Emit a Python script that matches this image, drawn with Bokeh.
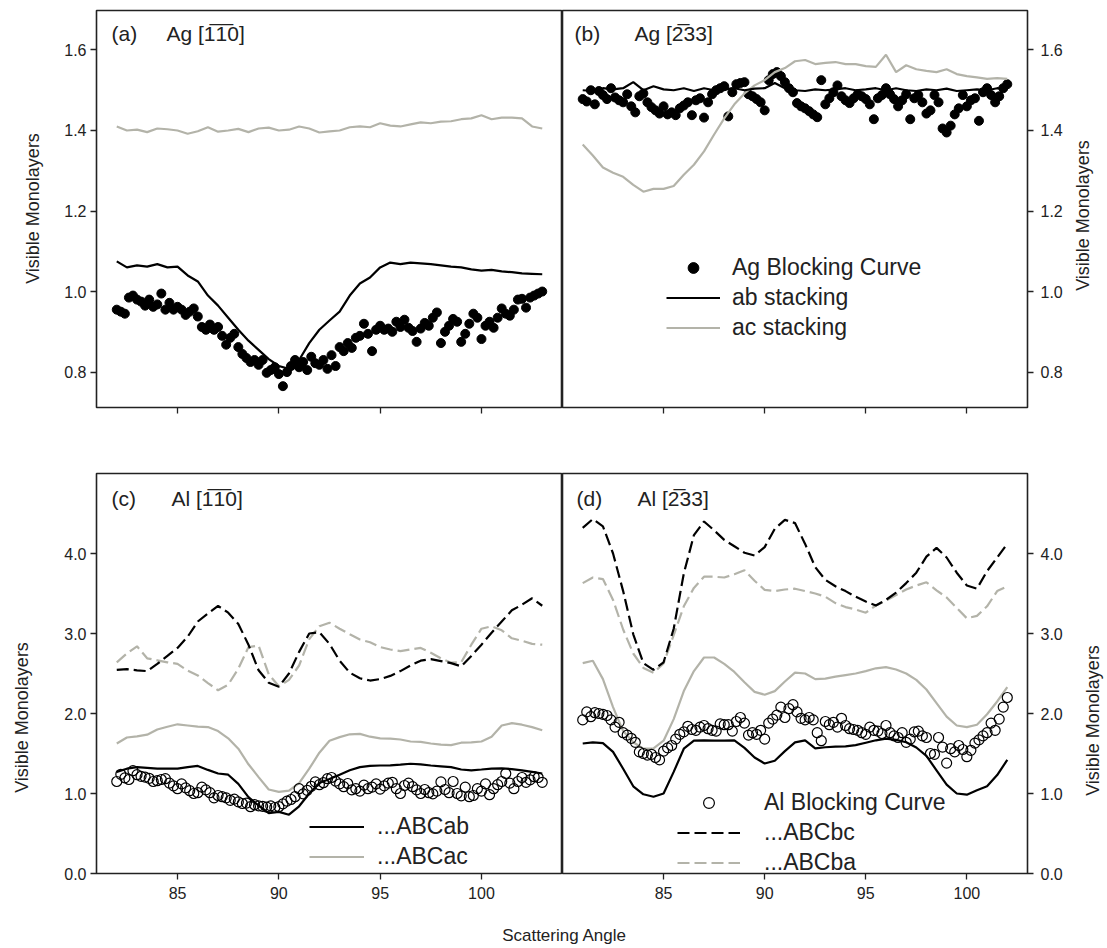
import math
import numpy as np
from bokeh.plotting import figure
from bokeh.models import Range1d, FixedTicker, PrintfTickFormatter, Label, Legend, LegendItem
from bokeh.layouts import column, row
from bokeh.embed import file_html
from bokeh.resources import INLINE
from bokeh.core.properties import value

FONT = "Liberation Sans"
GRAY = "#b3b3a9"
INK = "#222222"

# ---------------- data ----------------
x_ticks = [85, 90, 95, 100]
y_ticks_top = [0.8, 1.0, 1.2, 1.4, 1.6]
y_ticks_bot = [0.0, 1.0, 2.0, 3.0, 4.0]

# panel (a) Ag [-1-10]; lines every 0.5 deg from 82, dots every 0.2 deg from 82
a_line_start = 82.0
a_ab = [1.075, 1.060, 1.065, 1.062, 1.068, 1.060, 1.062, 1.040,
        1.025, 0.990, 0.965, 0.935, 0.905, 0.878, 0.855, 0.832,
        0.815, 0.808, 0.830, 0.872, 0.905, 0.928, 0.950, 0.990,
        1.020, 1.035, 1.060, 1.072, 1.068, 1.072, 1.070, 1.068,
        1.065, 1.062, 1.060, 1.055, 1.052, 1.054, 1.050, 1.048,
        1.045, 1.044, 1.043]
a_ac = [1.410, 1.400, 1.402, 1.396, 1.405, 1.403, 1.400, 1.392,
        1.398, 1.408, 1.397, 1.400, 1.404, 1.396, 1.405, 1.407,
        1.400, 1.402, 1.410, 1.405, 1.395, 1.398, 1.400, 1.408,
        1.410, 1.408, 1.418, 1.412, 1.410, 1.415, 1.420, 1.418,
        1.422, 1.423, 1.428, 1.430, 1.438, 1.428, 1.432, 1.432,
        1.430, 1.410, 1.405]
a_dot_start = 82.0
a_dots = [0.955, 0.950, 0.945, 0.985, 0.990,
          0.980, 0.975, 0.965, 0.980, 0.962,
          0.968, 0.995, 0.955, 0.972, 0.955,
          0.962, 0.955, 0.942, 0.950, 0.958,
          0.938, 0.912, 0.905, 0.918, 0.905,
          0.912, 0.890, 0.868, 0.885, 0.895,
          0.862, 0.845, 0.835, 0.825, 0.830,
          0.818, 0.830, 0.798, 0.805, 0.812,
          0.795, 0.765, 0.800, 0.815, 0.830,
          0.812, 0.825, 0.805, 0.838, 0.822,
          0.818, 0.830, 0.808, 0.842, 0.815,
          0.862, 0.852, 0.872, 0.860, 0.885,
          0.890, 0.920, 0.895, 0.852, 0.905,
          0.915, 0.905, 0.908, 0.900, 0.925,
          0.912, 0.930, 0.910, 0.902, 0.875,
          0.908, 0.922, 0.915, 0.935, 0.948,
          0.872, 0.900, 0.915, 0.932, 0.925,
          0.875, 0.895, 0.920, 0.945, 0.935,
          0.882, 0.915, 0.925, 0.910, 0.935,
          0.958, 0.945, 0.940, 0.955, 0.980,
          0.982, 0.960, 0.985, 0.990, 0.995,
          1.000]

# panel (b) Ag [-233]; lines from 81, dots from 81
b_line_start = 81.0
b_ab = [1.500, 1.498, 1.505, 1.502, 1.505, 1.520, 1.500, 1.510,
        1.502, 1.500, 1.505, 1.498, 1.505, 1.500, 1.502, 1.505,
        1.500, 1.504, 1.505, 1.518, 1.505, 1.500, 1.498, 1.502,
        1.500, 1.502, 1.505, 1.500, 1.502, 1.505, 1.500, 1.505,
        1.500, 1.498, 1.502, 1.500, 1.504, 1.498, 1.500, 1.502,
        1.500, 1.505, 1.502]
b_ac = [1.365, 1.338, 1.308, 1.295, 1.285, 1.265, 1.248, 1.255,
        1.255, 1.262, 1.290, 1.315, 1.348, 1.390, 1.430, 1.465,
        1.492, 1.512, 1.525, 1.545, 1.555, 1.572, 1.575, 1.565,
        1.568, 1.570, 1.565, 1.565, 1.560, 1.558, 1.588, 1.545,
        1.562, 1.552, 1.548, 1.545, 1.552, 1.540, 1.535, 1.532,
        1.528, 1.530, 1.528]
b_dot_start = 81.0
b_dots = [1.478, 1.472, 1.500, 1.465, 1.498,
          1.488, 1.478, 1.505, 1.482, 1.475,
          1.470, 1.490, 1.460, 1.445, 1.485,
          1.492, 1.470, 1.458, 1.450, 1.442,
          1.460, 1.440, 1.445, 1.438, 1.455,
          1.462, 1.470, 1.438, 1.475, 1.480,
          1.432, 1.470, 1.490, 1.500, 1.505,
          1.510, 1.435, 1.495, 1.515, 1.518,
          1.520, 1.490, 1.485, 1.478, 1.470,
          1.450, 1.525, 1.540, 1.545, 1.535,
          1.520, 1.505, 1.495, 1.468, 1.460,
          1.455, 1.448, 1.440, 1.433, 1.525,
          1.465, 1.480, 1.495, 1.512, 1.485,
          1.475, 1.468, 1.480, 1.490, 1.485,
          1.478, 1.465, 1.428, 1.480, 1.488,
          1.505, 1.490, 1.478, 1.460, 1.475,
          1.490, 1.428, 1.480, 1.488, 1.470,
          1.442, 1.450, 1.488, 1.470, 1.405,
          1.395, 1.412, 1.440, 1.455, 1.488,
          1.460, 1.475, 1.480, 1.424, 1.495,
          1.505, 1.488, 1.470, 1.485, 1.505,
          1.515]

# panel (c) Al [-1-10]
c_line_start = 82.0
c_ab = [1.270, 1.310, 1.330, 1.320, 1.310, 1.312, 1.310, 1.330,
        1.345, 1.295, 1.250, 1.235, 1.120, 0.955, 0.850, 0.755,
        0.770, 0.735, 0.840, 1.000, 1.130, 1.180, 1.235, 1.290,
        1.330, 1.345, 1.350, 1.352, 1.360, 1.372, 1.365, 1.350,
        1.340, 1.330, 1.300, 1.290, 1.300, 1.312, 1.315, 1.305,
        1.290, 1.270, 1.250]
c_ac = [1.625, 1.700, 1.715, 1.735, 1.800, 1.835, 1.865, 1.850,
        1.835, 1.830, 1.780, 1.690, 1.560, 1.365, 1.205, 1.050,
        1.020, 1.035, 1.130, 1.310, 1.510, 1.660, 1.705, 1.740,
        1.745, 1.710, 1.690, 1.685, 1.675, 1.650, 1.645, 1.625,
        1.610, 1.605, 1.635, 1.640, 1.650, 1.710, 1.850, 1.880,
        1.860, 1.830, 1.790]
c_bc = [2.545, 2.555, 2.540, 2.530, 2.620, 2.720, 2.820, 2.960,
        3.150, 3.250, 3.345, 3.260, 3.120, 2.860, 2.540, 2.385,
        2.335, 2.500, 2.770, 3.000, 3.015, 2.870, 2.660, 2.510,
        2.440, 2.412, 2.430, 2.470, 2.530, 2.600, 2.660, 2.680,
        2.655, 2.630, 2.590, 2.720, 2.860, 3.010, 3.150, 3.290,
        3.360, 3.440, 3.347]
c_ba = [2.640, 2.750, 2.840, 2.690, 2.665, 2.640, 2.620, 2.535,
        2.475, 2.380, 2.290, 2.360, 2.560, 2.830, 2.850, 2.490,
        2.340, 2.420, 2.600, 2.930, 3.090, 3.135, 3.060, 2.990,
        2.925, 2.890, 2.830, 2.800, 2.780, 2.800, 2.820, 2.760,
        2.690, 2.635, 2.640, 2.860, 3.060, 3.090, 3.040, 2.940,
        2.910, 2.870, 2.860]
c_dot_start = 82.0
c_dots = [1.150, 1.240, 1.195, 1.175, 1.285,
          1.235, 1.215, 1.205, 1.190, 1.150,
          1.160, 1.175, 1.185, 1.130, 1.095,
          1.060, 1.120, 1.070, 1.035, 1.000,
          1.010, 1.080, 1.045, 1.010, 0.945,
          0.975, 0.960, 0.945, 0.915, 0.930,
          0.895, 0.875, 0.880, 0.835, 0.860,
          0.845, 0.840, 0.830, 0.845, 0.825,
          0.835, 0.870, 0.905, 0.925, 0.960,
          1.060, 0.995, 1.040, 1.090, 1.145,
          1.110, 1.135, 1.185, 1.200, 1.155,
          1.120, 1.085, 1.125, 1.045, 1.060,
          1.030, 1.105, 1.060, 1.080, 1.120,
          1.055, 1.095, 1.130, 1.140, 1.060,
          1.000, 1.100, 1.130, 1.085, 1.045,
          1.000, 1.050, 1.010, 0.995, 1.030,
          1.145, 1.050, 1.010, 1.150, 1.000,
          0.970, 1.080, 0.960, 0.975, 1.060,
          1.030, 1.120, 0.985, 1.060, 1.110,
          1.150, 1.250, 1.130, 1.060, 1.150,
          1.200, 1.140, 1.170, 1.210, 1.200,
          1.140]

# panel (d) Al [-233]
d_line_start = 81.0
d_ab = [1.625, 1.640, 1.630, 1.520, 1.310, 1.090, 0.990, 0.960,
        1.000, 1.270, 1.560, 1.660, 1.665, 1.662, 1.660, 1.665,
        1.570, 1.450, 1.375, 1.410, 1.530, 1.640, 1.665, 1.565,
        1.578, 1.585, 1.590, 1.605, 1.635, 1.665, 1.685, 1.670,
        1.640, 1.575, 1.470, 1.290, 1.110, 1.000, 0.985, 1.040,
        1.090, 1.230, 1.420]
d_ac = [2.630, 2.660, 2.430, 2.080, 1.780, 1.640, 1.560, 1.565,
        1.660, 1.930, 2.280, 2.530, 2.700, 2.700, 2.620, 2.520,
        2.390, 2.270, 2.235, 2.280, 2.400, 2.510, 2.500, 2.430,
        2.435, 2.460, 2.480, 2.500, 2.530, 2.565, 2.580, 2.550,
        2.500, 2.420, 2.300, 2.130, 1.960, 1.850, 1.830, 1.860,
        1.990, 2.150, 2.330]
d_bc = [4.320, 4.430, 4.340, 4.000, 3.530, 2.990, 2.630, 2.545,
        2.640, 3.060, 3.750, 4.230, 4.400, 4.290, 4.170, 4.090,
        4.010, 3.975, 4.080, 4.310, 4.420, 4.380, 4.120, 3.830,
        3.670, 3.590, 3.530, 3.460, 3.400, 3.350, 3.420, 3.510,
        3.630, 3.760, 3.960, 4.070, 3.950, 3.760, 3.600, 3.560,
        3.780, 3.950, 4.120]
d_ba = [3.630, 3.700, 3.680, 3.420, 3.050, 2.750, 2.570, 2.510,
        2.625, 2.980, 3.340, 3.570, 3.710, 3.710, 3.700, 3.740,
        3.790, 3.660, 3.545, 3.530, 3.550, 3.560, 3.530, 3.500,
        3.460, 3.380, 3.330, 3.300, 3.260, 3.350, 3.410, 3.480,
        3.550, 3.600, 3.640, 3.540, 3.450, 3.320, 3.190, 3.220,
        3.340, 3.530, 3.590]
d_dot_start = 81.0
d_dots = [1.920, 2.020, 1.960, 2.010, 2.000,
          1.990, 1.975, 1.920, 1.830, 1.890,
          1.760, 1.730, 1.690, 1.640, 1.520,
          1.500, 1.480, 1.490, 1.450, 1.420,
          1.530, 1.570, 1.600, 1.680, 1.740,
          1.770, 1.840, 1.800, 1.790, 1.830,
          1.850, 1.810, 1.790, 1.780, 1.870,
          1.860, 1.860, 1.780, 1.900, 1.950,
          1.880, 1.730, 1.760, 1.740, 1.790,
          1.680, 1.880, 1.930, 1.980, 2.080,
          1.950, 2.060, 2.110, 2.020, 1.940,
          1.920, 1.950, 1.920, 1.760, 1.660,
          1.900, 1.860, 1.890, 1.830, 1.940,
          1.850, 1.810, 1.800, 1.790, 1.760,
          1.740, 1.830, 1.790, 1.780, 1.750,
          1.850, 1.760, 1.720, 1.700, 1.760,
          1.640, 1.680, 1.770, 1.780, 1.720,
          1.700, 1.500, 1.490, 1.700, 1.580,
          1.380, 1.560, 1.520, 1.600, 1.550,
          1.460, 1.540, 1.630, 1.670, 1.720,
          1.760, 1.880, 1.790, 1.930, 2.080,
          2.200]

LINE_STEP = 0.5
DOT_STEP = 0.2


def xs(start, vals, step):
    return list(np.round(start + step * np.arange(len(vals)), 3))


# ---------------- layout sizes (pixels) ----------------
LSTRIP = 44          # left strip holding the left y-axis titles
RSTRIP = 36          # right strip holding the right y-axis titles
FRAME_LW, FRAME_RW = 466, 465
MBL, MBR = 52, 41
TOP_H = 10 + 397 + 36
BOT_H = 30 + 400 + 36
XLAB_H = 38
TOTAL_H = TOP_H + BOT_H + XLAB_H
LW = MBL + FRAME_LW
RW = FRAME_RW + MBR


# ---------------- helpers ----------------
def make_fig(width, height, xr, yr, yticks, side, mbl, mbr, mbt, mbb, xlabels):
    p = figure(width=width, height=height, x_range=Range1d(*xr), y_range=Range1d(*yr),
               output_backend="svg", toolbar_location=None, title=None,
               y_axis_location=side,
               min_border_left=mbl, min_border_right=mbr,
               min_border_top=mbt, min_border_bottom=mbb)
    p.xgrid.visible = False
    p.ygrid.visible = False
    p.outline_line_color = INK
    p.outline_line_width = 1.6
    p.background_fill_color = "white"
    p.border_fill_color = "white"
    for ax in p.axis:
        ax.axis_line_color = None
        ax.major_tick_in = 0
        ax.major_tick_out = 6
        ax.major_tick_line_width = 1.3
        ax.major_tick_line_color = INK
        ax.minor_tick_line_color = None
        ax.major_label_text_font = FONT
        ax.major_label_text_font_size = "16px"
        ax.major_label_text_color = INK
    p.xaxis.ticker = FixedTicker(ticks=x_ticks)
    p.yaxis.ticker = FixedTicker(ticks=yticks)
    p.yaxis.formatter = PrintfTickFormatter(format="%.1f")
    p.yaxis.major_label_standoff = 4 if side == "left" else 7
    if xlabels:
        p.xaxis.major_label_standoff = 7
    else:
        p.xaxis.major_label_standoff = 0
        p.xaxis.major_label_overrides = {t: "" for t in x_ticks}
    return p


def blank_fig(width, height):
    p = figure(width=width, height=height, output_backend="svg", toolbar_location=None,
               title=None, x_axis_type=None, y_axis_type=None, min_border=0,
               x_range=Range1d(0, 1), y_range=Range1d(0, 1))
    p.outline_line_color = None
    p.background_fill_color = "white"
    p.border_fill_color = "white"
    return p


def add_text(p, x, y, text, size, angle=0.0, align="left"):
    p.add_layout(Label(x=x, y=y, x_units="screen", y_units="screen", text=text,
                       angle=angle, text_align=align, text_baseline="middle",
                       text_font=FONT, text_font_size=size, text_color=INK))


def add_legend(p, items, loc, glyph_w, standoff):
    lg = Legend(items=items, location=loc, orientation="vertical",
                border_line_color=None, background_fill_alpha=0.0,
                glyph_width=glyph_w, glyph_height=27, label_height=27,
                label_standoff=standoff, spacing=3, padding=0, margin=0,
                label_text_font=FONT, label_text_font_size="23px",
                label_text_color=INK)
    p.add_layout(lg)


# ---------------- (a) ----------------
fa = make_fig(LW, TOP_H, (81, 104), (0.712, 1.698), y_ticks_top, "left", MBL, 0, 10, 36, False)
fa.scatter(xs(a_dot_start, a_dots, DOT_STEP), a_dots, marker="circle", size=9,
           fill_color="black", line_color="black")
fa.line(xs(a_line_start, a_ac, LINE_STEP), a_ac, line_color=GRAY, line_width=2.2)
fa.line(xs(a_line_start, a_ab, LINE_STEP), a_ab, line_color="black", line_width=2.2)
add_text(fa, 15, 374, "(a)", "21px")
add_text(fa, 70, 374, "Ag [1\u03051\u03050]", "21px")

# ---------------- (b) ----------------
fb = make_fig(RW, TOP_H, (80, 103), (0.712, 1.698), y_ticks_top, "right", 0, MBR, 10, 36, False)
rb_dots = fb.scatter(xs(b_dot_start, b_dots, DOT_STEP), b_dots, marker="circle", size=9,
                     fill_color="black", line_color="black")
rb_ac = fb.line(xs(b_line_start, b_ac, LINE_STEP), b_ac, line_color=GRAY, line_width=2.2)
rb_ab = fb.line(xs(b_line_start, b_ab, LINE_STEP), b_ab, line_color="black", line_width=2.2)
add_text(fb, 12, 374, "(b)", "21px")
add_text(fb, 72, 374, "Ag [2\u030533]", "21px")
add_legend(fb, [LegendItem(label=value("Ag Blocking Curve"), renderers=[rb_dots]),
                LegendItem(label=value("ab stacking"), renderers=[rb_ab]),
                LegendItem(label=value("ac stacking"), renderers=[rb_ac])],
           (104, 66.5), 54, 12)

# ---------------- (c) ----------------
fc = make_fig(LW, BOT_H, (81, 104), (0, 5), y_ticks_bot, "left", MBL, 0, 30, 36, True)
fc.line(xs(c_line_start, c_ba, LINE_STEP), c_ba, line_color=GRAY, line_width=2.2, line_dash="12 5")
fc.line(xs(c_line_start, c_bc, LINE_STEP), c_bc, line_color="black", line_width=2.2, line_dash="12 5")
rc_ac = fc.line(xs(c_line_start, c_ac, LINE_STEP), c_ac, line_color=GRAY, line_width=2.2)
rc_ab = fc.line(xs(c_line_start, c_ab, LINE_STEP), c_ab, line_color="black", line_width=2.2)
fc.scatter(xs(c_dot_start, c_dots, DOT_STEP), c_dots, marker="circle", size=10,
           fill_color=None, line_color="black", line_width=1.2)
add_text(fc, 15, 375, "(c)", "21px")
add_text(fc, 75, 375, "Al [1\u03051\u03050]", "21px")
add_legend(fc, [LegendItem(label=value("...ABCab"), renderers=[rc_ab]),
                LegendItem(label=value("...ABCac"), renderers=[rc_ac])],
           (213, 3.5), 55, 13)

# ---------------- (d) ----------------
fd = make_fig(RW, BOT_H, (80, 103), (0, 5), y_ticks_bot, "right", 0, MBR, 30, 36, True)
rd_ba = fd.line(xs(d_line_start, d_ba, LINE_STEP), d_ba, line_color=GRAY, line_width=2.2, line_dash="12 5")
rd_bc = fd.line(xs(d_line_start, d_bc, LINE_STEP), d_bc, line_color="black", line_width=2.2, line_dash="12 5")
fd.line(xs(d_line_start, d_ac, LINE_STEP), d_ac, line_color=GRAY, line_width=2.2)
fd.line(xs(d_line_start, d_ab, LINE_STEP), d_ab, line_color="black", line_width=2.2)
rd_dots = fd.scatter(xs(d_dot_start, d_dots, DOT_STEP), d_dots, marker="circle", size=10,
                     fill_color=None, line_color="black", line_width=1.2)
add_text(fd, 14, 375, "(d)", "21px")
add_text(fd, 75, 375, "Al [2\u030533]", "21px")
add_legend(fd, [LegendItem(label=value("Al Blocking Curve"), renderers=[rd_dots]),
                LegendItem(label=value("...ABCbc"), renderers=[rd_bc]),
                LegendItem(label=value("...ABCba"), renderers=[rd_ba])],
           (115, -2.5), 63, 24)

# ---------------- axis titles ----------------
fx = blank_fig(LW + RW, XLAB_H)
add_text(fx, 520, 12, "Scattering Angle", "17px", align="center")

left_strip = blank_fig(LSTRIP, TOTAL_H)
add_text(left_strip, 32, TOTAL_H - 208, "Visible Monolayers", "18px", angle=math.pi / 2, align="center")
add_text(left_strip, 21, TOTAL_H - 717, "Visible Monolayers", "18px", angle=math.pi / 2, align="center")

right_strip = blank_fig(RSTRIP, TOTAL_H)
add_text(right_strip, 14, TOTAL_H - 215, "Visible Monolayers", "18px", angle=math.pi / 2, align="center")
add_text(right_strip, 24, TOTAL_H - 720, "Visible Monolayers", "18px", angle=math.pi / 2, align="center")

layout = row(left_strip, column(row(fa, fb), row(fc, fd), fx), right_strip)
open("out.html", "w").write(file_html(layout, INLINE))
